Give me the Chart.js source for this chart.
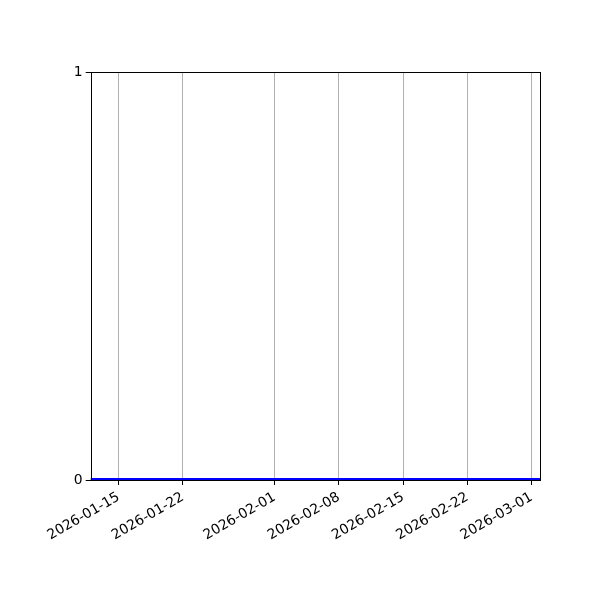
<!DOCTYPE html>
<html>
<head>
<meta charset="utf-8">
<script src="https://cdn.jsdelivr.net/npm/chart.js@4.4.1/dist/chart.umd.min.js"></script>
<style>
  html, body { margin: 0; padding: 0; background: #fff; }
  #wrap { width: 600px; height: 600px; }
</style>
</head>
<body>
<div id="wrap"><canvas id="chart" width="600" height="600"></canvas></div>
<script>
// chart data
const TICK_DATES = ['2026-01-15', '2026-01-22', '2026-02-01', '2026-02-08', '2026-02-15', '2026-02-22', '2026-03-01'];
const SERIES_DATES = ['2026-01-10', '2026-03-03'];
const SERIES_VALUES = [0, 0];
const Y_TICKS = [0, 1];
const X_RANGE = ['2026-01-11T22:48', '2026-03-01T22:35'];

const DAY = 86400000;
const BASE = Date.UTC(2026, 0, 1);
function toDay(s) {
  const d = new Date(s + (s.length === 10 ? 'T00:00:00Z' : ':00Z'));
  return (d.getTime() - BASE) / DAY;
}
const tickDays = TICK_DATES.map(toDay);
const labelByDay = {};
tickDays.forEach((d, i) => { labelByDay[d] = TICK_DATES[i]; });

const FONT = { family: 'DejaVu Sans', size: 13.9 };

const framePlugin = {
  id: 'frame',
  afterDraw(chart) {
    const { ctx, chartArea: a } = chart;
    ctx.save();
    ctx.strokeStyle = '#000';
    ctx.lineWidth = 1;
    ctx.strokeRect(Math.round(a.left) + 0.5, Math.round(a.top) + 0.5,
      Math.round(a.right - a.left) - 1, Math.round(a.bottom - a.top));
    ctx.restore();
  }
};

new Chart(document.getElementById('chart'), {
  type: 'line',
  data: {
    datasets: [{
      data: SERIES_DATES.map((d, i) => ({ x: toDay(d), y: SERIES_VALUES[i] })),
      borderColor: '#0000ff',
      borderWidth: 4,
      pointRadius: 0,
      clip: 0
    }]
  },
  options: {
    responsive: false,
    animation: false,
    layout: { padding: { top: 72, right: 59.7, left: 0, bottom: 0 } },
    plugins: { legend: { display: false }, tooltip: { enabled: false } },
    scales: {
      x: {
        type: 'linear',
        min: toDay(X_RANGE[0]),
        max: toDay(X_RANGE[1]),
        afterBuildTicks: s => { s.ticks = tickDays.map(v => ({ value: v })); },
        afterFit: s => { s.height = 120; },
        border: { display: false },
        grid: { color: '#b0b0b0', lineWidth: 1, tickColor: '#000', tickWidth: 1, tickLength: 5 },
        ticks: {
          font: FONT, color: '#000', padding: 4,
          minRotation: 30, maxRotation: 30, autoSkip: false,
          callback: v => labelByDay[v] || ''
        }
      },
      y: {
        min: Y_TICKS[0],
        max: Y_TICKS[Y_TICKS.length - 1],
        afterBuildTicks: s => { s.ticks = Y_TICKS.map(v => ({ value: v })); },
        afterFit: s => { s.width = 90.7; },
        border: { display: false },
        grid: { drawOnChartArea: false, tickColor: '#000', tickWidth: 1, tickLength: 5 },
        ticks: { font: FONT, color: '#000', padding: 3 }
      }
    }
  },
  plugins: [framePlugin]
});
</script>
</body>
</html>
